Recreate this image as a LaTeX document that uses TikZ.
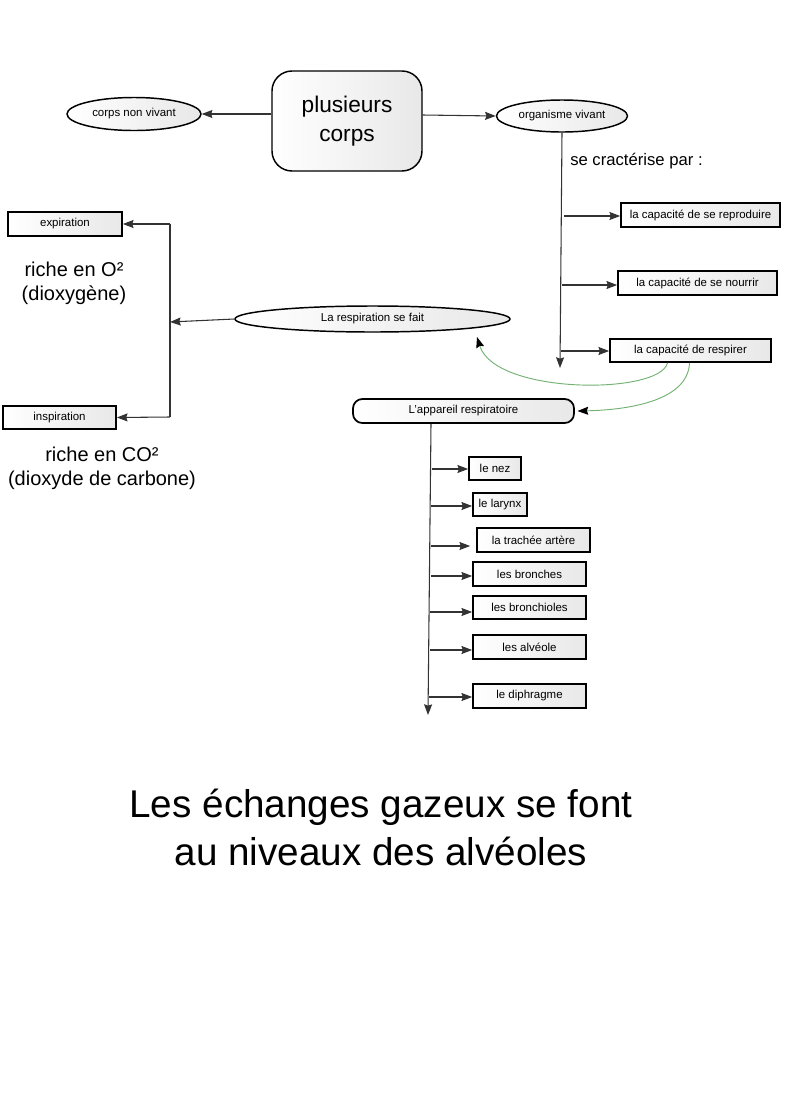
\documentclass[tikz,border=0pt]{standalone}
\usepackage{fontspec}
\setmainfont{Liberation Sans}
\usetikzlibrary{arrows.meta,shapes.geometric}
\begin{document}
\begin{tikzpicture}[x=0.75pt,y=-0.75pt,
  lbl/.style={font=\fontsize{8.6}{10}\selectfont, inner sep=0pt},
  fillg/.style={left color=white, right color=gray!18},
  boxn/.style={lbl, draw=black, line width=1.3pt, fillg, rectangle},
  ell/.style={lbl, draw=black, line width=1.1pt, fillg, ellipse},
  conn/.style={draw=black!80, line width=0.8pt, -{Stealth[length=8pt,width=6pt,inset=1pt]}},
  plain/.style={draw=black!80, line width=0.8pt},
  gconn/.style={draw=green!45!black!55, line width=0.7pt, -{Stealth[length=8pt,width=6pt,inset=1pt,color=black]}},
  big/.style={font=\fontsize{15}{18}\selectfont, align=center, inner sep=0pt}]
\useasboundingbox (0,0) rectangle (800,1100);
\fill[white] (0,0) rectangle (800,1100);

% top
\node[draw=black, line width=1.1pt, fillg, rounded corners=15pt, minimum width=112.5pt, minimum height=75pt,
  font=\fontsize{17}{22}\selectfont, align=center] (plus) at (347,121) {plusieurs\\corps};
\node[ell, minimum width=100.5pt, minimum height=24.75pt] (cnv) at (134,114) {corps non vivant};
\node[ell, minimum width=98.25pt, minimum height=24pt] (org) at (562,116) {organisme vivant};
\draw[conn] (plus.west |- 0,114) -- (cnv.east);
\draw[conn] (plus.east |- 0,115) -- (org.west);

\node[font=\fontsize{12.5}{14}\selectfont, anchor=west, inner sep=0pt] (sct) at (570,161) {se cractérise par :};

\node[boxn, minimum width=119.25pt, minimum height=18pt] (rep) at (700.5,215) {la capacité de se reproduire};
\node[boxn, minimum width=119.25pt, minimum height=18pt] (nour) at (697.5,283) {la capacité de se nourrir};
\node[boxn, minimum width=120.75pt, minimum height=17.25pt] (resp) at (690.5,350.5) {la capacité de respirer};

\coordinate (orgend) at (560,368);
\draw[conn] (org.south) -- (orgend);
\coordinate (b1) at (564,216);
\coordinate (b2) at (562,285);
\coordinate (b3) at (561,351);
\draw[conn] (b1) -- (b1 -| rep.west);
\draw[conn] (b2) -- (b2 -| nour.west);
\draw[conn] (b3) -- (b3 -| resp.west);

% respiration
\node[ell, minimum width=206.25pt, minimum height=19.5pt] (fait) at (372.5,319) {La respiration se fait};
\node[boxn, minimum width=85.5pt, minimum height=18pt] (exp) at (65,224) {expiration};
\node[boxn, minimum width=84.75pt, minimum height=17.25pt] (insp) at (59.5,417.5) {inspiration};
\coordinate (ltop) at (170,224);
\coordinate (lbot) at (170,417);
\coordinate (lmid) at (170,322);
\draw[plain] (ltop) -- (lbot);
\draw[conn] (ltop) -- (exp.east);
\draw[conn] (lbot) -- (insp.east);
\draw[conn] (fait.west) -- (lmid);

\node[big] (o2) at (74,283) {riche en O²\\(dioxygène)};
\node[big] (co2) at (102,468) {riche en CO²\\(dioxyde de carbone)};

% appareil
\node[lbl, draw=black, line width=1.3pt, fillg, rounded corners=7pt, minimum width=165.75pt, minimum height=18pt] (app) at (463.5,411) {L'appareil respiratoire};
\coordinate (fend) at (477,337);
\draw[gconn] ([xshift=-17.25pt]resp.south) .. controls (660,395) and (495,395) .. (fend);
\draw[gconn] ([xshift=-0.75pt]resp.south) .. controls (688,402) and (625,410) .. ([xshift=2pt]app.east);

\node[boxn, minimum width=39pt, minimum height=17.25pt] (nez) at (495,468.5) {le nez};
\node[boxn, minimum width=40.5pt, minimum height=17.25pt] (lar) at (500,504.5) {le larynx};
\node[boxn, minimum width=84.75pt, minimum height=18pt] (tra) at (533.5,540) {la trachée artère};
\node[boxn, minimum width=84.75pt, minimum height=18pt] (bro) at (529.5,574) {les bronches};
\node[boxn, minimum width=84.75pt, minimum height=17.25pt] (brl) at (529.5,607.5) {les bronchioles};
\node[boxn, minimum width=84.75pt, minimum height=18pt] (alv) at (529.5,647) {les alvéole};
\node[boxn, minimum width=84.75pt, minimum height=18pt] (dia) at (529.5,696) {le diphragme};

\coordinate (aend) at (428,715);
\draw[conn] (app.south -| 431,0) -- (aend);
\coordinate (c1) at (432,469);
\coordinate (c2) at (431,506);
\coordinate (c3) at (431,546);
\coordinate (c4) at (431,576);
\coordinate (c5) at (430,612);
\coordinate (c6) at (430,650);
\coordinate (c7) at (429,697);
\draw[conn] (c1) -- (c1 -| nez.west);
\draw[conn] (c2) -- (c2 -| lar.west);
\draw[conn, shorten >=4.5pt] (c3) -- (c3 -| tra.west);
\draw[conn] (c4) -- (c4 -| bro.west);
\draw[conn] (c5) -- (c5 -| brl.west);
\draw[conn] (c6) -- (c6 -| alv.west);
\draw[conn] (c7) -- (c7 -| dia.west);

\node[font=\fontsize{29}{36}\selectfont, align=center, inner sep=0pt] (fin) at (381,827) {Les échanges gazeux se font\\au niveaux des alvéoles};
\end{tikzpicture}
\end{document}
